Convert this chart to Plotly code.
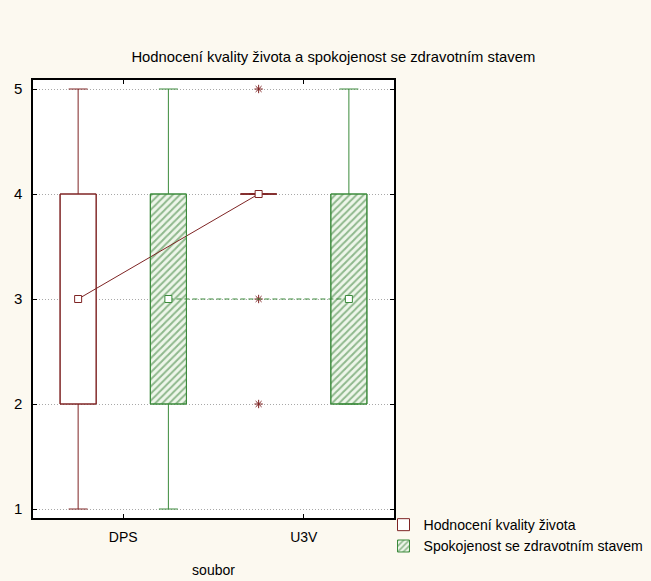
import plotly.graph_objects as go

categories = ["DPS", "U3V"]
y_ticks = [1, 2, 3, 4, 5]
series_names = ["Hodnocení kvality života", "Spokojenost se zdravotním stavem"]

# Hodnocení kvality života (per category)
hod_min = [1, 4]
hod_q1 = [2, 4]
hod_med = [3, 4]
hod_q3 = [4, 4]
hod_max = [5, 4]
hod_extremes = [[], [5, 3, 2]]

# Spokojenost se zdravotním stavem (per category)
spo_min = [1, 2]
spo_q1 = [2, 2]
spo_med = [3, 3]
spo_q3 = [4, 4]
spo_max = [5, 5]
spo_extremes = [[], []]

RED = "#7e2424"
GREEN = "#3b8a3b"
BG = "#fcf9f0"
FONT = "Liberation Sans, Arial, sans-serif"

offsets = [-0.25, 0.25]
box_w = 0.2
cap_w = 0.105

series = [
    dict(name=series_names[0], color=RED, mn=hod_min, q1=hod_q1, med=hod_med, q3=hod_q3, mx=hod_max,
         ext=hod_extremes, hatch=False, dash="solid"),
    dict(name=series_names[1], color=GREEN, mn=spo_min, q1=spo_q1, med=spo_med, q3=spo_q3, mx=spo_max,
         ext=spo_extremes, hatch=True, dash="5px,3px"),
]

fig = go.Figure()

for si, s in enumerate(series):
    xs = [i + offsets[si] for i in range(len(categories))]
    if s["hatch"]:
        marker = dict(color="#eef6ea", line=dict(color=s["color"], width=1),
                      pattern=dict(shape="/", fgcolor="#2f7a2f", bgcolor="#eef6ea", size=5, solidity=0.4))
    else:
        marker = dict(color="white", line=dict(color=s["color"], width=1))
    fig.add_trace(go.Bar(x=xs, y=[b - a for a, b in zip(s["q1"], s["q3"])], base=s["q1"], width=box_w,
                         marker=marker, name=s["name"], showlegend=True, hoverinfo="skip"))
    lx, ly = [], []
    for x, a, q1, q3, b in zip(xs, s["mn"], s["q1"], s["q3"], s["mx"]):
        h = box_w / 2
        c = cap_w / 2
        lx += [x - h, x + h, x + h, x - h, x - h, None]
        ly += [q1, q1, q3, q3, q1, None]
        lx += [x, x, None, x - c, x + c, None]
        ly += [q3, b, None, b, b, None]
        lx += [x, x, None, x - c, x + c, None]
        ly += [q1, a, None, a, a, None]
    fig.add_trace(go.Scatter(x=lx, y=ly, mode="lines", line=dict(color=s["color"], width=1),
                             showlegend=False, hoverinfo="skip"))
    fig.add_trace(go.Scatter(x=xs, y=s["med"], mode="lines+markers",
                             line=dict(color=s["color"], width=1, dash=s["dash"]),
                             marker=dict(symbol="square", size=7, color="white",
                                         line=dict(color=s["color"], width=1)),
                             showlegend=False))
    ex, ey = [], []
    for x, vals in zip(xs, s["ext"]):
        for v in vals:
            ex.append(x)
            ey.append(v)
    if ex:
        fig.add_trace(go.Scatter(x=ex, y=ey, mode="markers",
                                 marker=dict(symbol="asterisk-open", size=7, color=s["color"],
                                             line=dict(color=s["color"], width=1)),
                                 showlegend=False))

fig.update_layout(
    width=651, height=581,
    paper_bgcolor=BG, plot_bgcolor="white",
    margin=dict(l=33, r=257, t=80, b=63, autoexpand=False),
    barmode="overlay",
    title=dict(text="Hodnocení kvality života a spokojenost se zdravotním stavem",
               x=0.512, xref="container", xanchor="center",
               y=1 - 57 / 581, yref="container", yanchor="middle",
               font=dict(family=FONT, size=14.8, color="black")),
    font=dict(family=FONT, color="black"),
    legend=dict(x=383.5 / 651, y=1 - 509 / 581, xref="container", yref="container",
                xanchor="left", yanchor="top", bgcolor="rgba(0,0,0,0)",
                font=dict(family=FONT, size=14.1, color="black"), tracegroupgap=0),
    showlegend=True,
)

fig.update_xaxes(range=[-0.5, 1.5], tickvals=list(range(len(categories))), ticktext=categories,
                 ticks="inside", ticklen=4, tickcolor="black", showline=True, linecolor="black",
                 linewidth=1.5, mirror="ticks", showgrid=False, zeroline=False, automargin=False,
                 ticklabelstandoff=5,
                 tickfont=dict(family=FONT, size=14),
                 title=dict(text="soubor", font=dict(family=FONT, size=14), standoff=22))
fig.update_yaxes(range=[1 - 9 / 105, 5 + 9 / 105], tickvals=y_ticks, ticktext=[str(v) for v in y_ticks],
                 ticks="inside", ticklen=4, tickcolor="black", showline=True, linecolor="black",
                 linewidth=1.5, mirror="ticks", showgrid=True, gridcolor="#a8a8a8", griddash="1px,2px",
                 gridwidth=1, zeroline=False, ticklabelstandoff=6, automargin=False,
                 tickfont=dict(family=FONT, size=15))

fig.write_html("out.html")
